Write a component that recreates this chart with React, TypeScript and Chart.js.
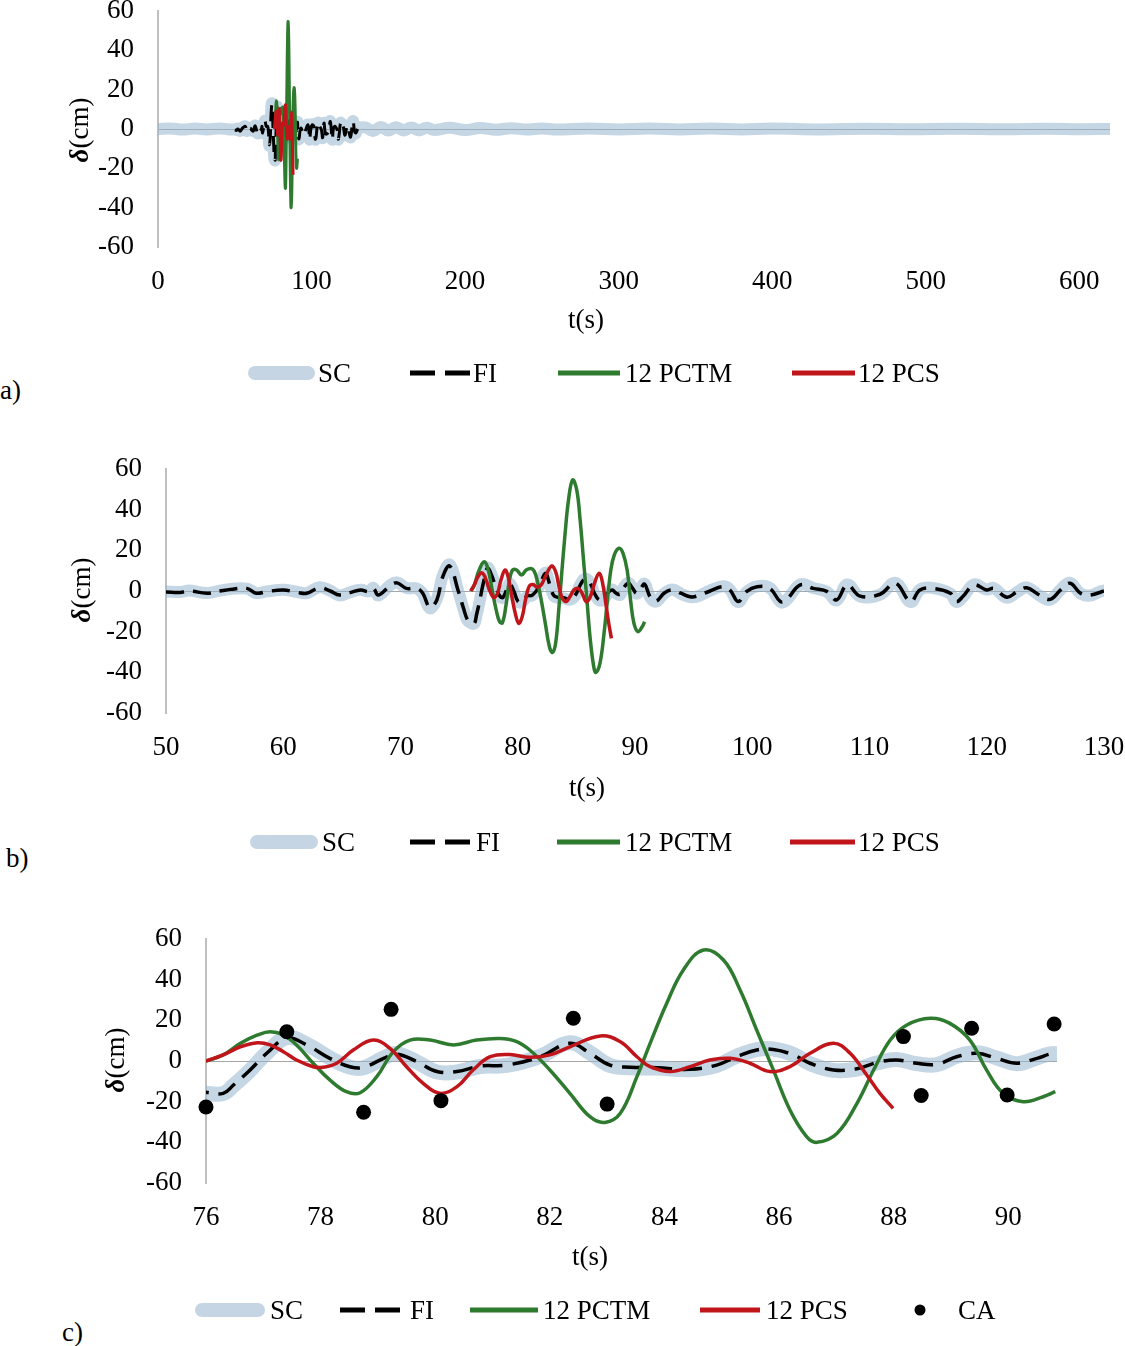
import { useEffect, useRef } from "react"
import { Chart, registerables } from "chart.js"

Chart.register(...registerables)

// ---- data (t in s, displacement in cm) ----

const seriesNames = ["SC", "FI", "12 PCTM", "12 PCS", "CA"]
const xTitleText = "t(s)"
const yTitleSymbol = "δ"
const yTitleUnit = "(cm)"

const fiTime = [
  50, 51.2, 52, 53.5, 54.6, 55.5, 56.9, 57.7, 58.6, 60, 61.2, 62, 63.1, 64, 64.8, 65.7,
  66.6, 67.3, 67.7, 68.1, 69.1, 69.7, 70.5, 71.4, 71.9, 72.5, 73.1, 73.6, 74.2, 74.9, 75.4, 75.7,
  76, 76.3, 76.48, 76.77, 77.06, 77.41, 77.76, 78.16, 78.51, 78.75, 79.1, 79.33, 79.68, 80.03,
  80.38, 80.78, 81.25, 81.83, 82.35, 82.7, 83.05, 83.4, 83.87, 84.45, 84.91, 85.26, 85.61, 85.9,
  86.25, 86.54, 86.95, 87.36, 87.7, 88.05, 88.4, 88.75, 89.1, 89.45, 89.8, 90.15, 90.5, 90.82,
  91.3, 91.8, 92.5, 93.2, 93.9, 94.7, 95.3, 96.4, 97.5, 98.1, 98.8, 99.5, 100.4, 101.5, 102.4,
  102.9, 104.1, 105.2, 106.4, 107.2, 108.1, 109.2, 110.9, 112.2, 113.5, 114.3, 115.4, 116.9,
  117.4, 118, 118.9, 120, 120.6, 121.7, 122.6, 123.4, 124.5, 125.4, 126.3, 127.1, 128, 128.8, 130,
]
const fiDisp = [
  -0.5, -0.7, 0, -1.1, 0, 0.8, 1.3, -1.1, -0.3, 0.5, -0.7, -1.1, 1.6, 0, -2, -0.8,
  0.5, -0.3, 1.3, -2, 2.5, 4, 1.3, 1.3, -1.1, -8, -4.4, 7, 12.3, 0.5, -9, -14,
  -15.4, -15.9, -11.8, -4.4, 3.8, 11.2, 7.9, 1.3, -2.8, -3.1, 1.3, 3.4, -0.3, -5.2,
  -5.2, -2.5, -2, 2.1, 8.7, 3.8, -2, -3.1, -3.3, -4.1, -2, 2.1, 5.4, 5.7,
  3, -1.1, -4.4, -3.8, -0.8, 0.5, -1.1, -1.6, 2.1, 3.8, 1.3, -1.1, 1.3, 3.4,
  -3, -5, -1, 0.5, -1.1, -2.8, -2.5, 0, 2.1, 0.5, -5.2, -0.3, 2.1, 1.3, -5.2,
  -4.4, 3, 1.3, -0.3, -4.4, 3, -2.5, -1.6, 3.8, -5.2, 0.5, 1.3, -1.1,
  -5.2, -2.5, 3, 0.5, 1.3, -3.1, -0.3, 1.6, -2, -4.1, 0.5, 3.8, -1.1, -2, 0,
]

// SC: quiet lead-in, the same sampling instants as FI, then the long tail to 620 s
const scLeadTime = [0, 8, 16, 24, 32, 40, 46]
const scLeadDisp = [0, 0.3, -0.3, 0.2, -0.2, 0.3, -0.2]
const scMidDisp = [
  -0.3, -0.5, 0.2, -1, 0.2, 1, 1.2, -1, -0.2, 0.6, -0.5, -1, 1.8, 0.2, -2.2, -0.6,
  0.6, -0.2, 1.5, -2.2, 2.8, 4.2, 1.5, 1.2, -1.3, -8.5, -4, 7.5, 13, 0.5, -9.5, -14.5,
  -15.8, -16, -12, -4.6, 4, 11.5, 8.2, 1.5, -3, -3.3, 1.5, 3.6, -0.5, -5.4,
  -5.4, -2.7, -2.2, 2.3, 9, 4, -2.2, -3.3, -3.5, -4.3, -2.2, 2.3, 5.6, 5.9,
  3.2, -1.3, -4.6, -4, -1, 0.7, -1.3, -1.8, 2.3, 4, 1.5, -1.3, 1.5, 3.6,
  -3.2, -5.2, -1.2, 0.7, -1.3, -3, -2.7, 0.2, 2.3, 0.7, -5.4, -0.5, 2.3, 1.5, -5.4,
  -4.6, 3.2, 1.5, -0.5, -4.6, 3.2, -2.7, -1.8, 4, -5.4, 0.7, 1.5, -1.3,
  -5.4, -2.7, 3.2, 0.7, 1.5, -3.3, -0.5, 1.8, -2.2, -4.3, 0.7, 4, -1.3, -2.2, 0.2,
]
const scTailTime = [
  135, 140, 145, 150, 155, 160, 165, 170, 175, 180, 190, 200, 210, 220, 230, 240, 250,
  260, 280, 300, 320, 340, 360, 380, 400, 430, 460, 490, 520, 550, 580, 600, 620,
]
const scTailDisp = [
  0.8, -1, 1, -0.8, 0.9, -0.7, 0.8, -0.7, 0.6, -0.5, 0.6, -0.5, 0.5, -0.4, 0.4, -0.3, 0.3,
  -0.3, 0.3, -0.2, 0.2, -0.2, 0.2, -0.2, 0.2, -0.2, 0.1, -0.1, 0.1, -0.1, 0.1, -0.1, 0,
]
const scTime = [...scLeadTime, ...fiTime, ...scTailTime]
const scDisp = [...scLeadDisp, ...scMidDisp, ...scTailDisp]

const pctmTime = [
  76, 76.3, 76.6, 76.9, 77.12, 77.35, 77.58, 77.87, 78.16, 78.45, 78.69, 78.98, 79.27, 79.56,
  79.91, 80.32, 80.72, 81.13, 81.4, 81.65, 82, 82.35, 82.7, 82.96, 83.23, 83.52, 83.75, 84.04,
  84.33, 84.68, 85.03, 85.32, 85.61, 85.9, 86.19, 86.48, 86.66, 87.01, 87.36, 87.65, 87.94,
  88.23, 88.64, 88.98, 89.33, 89.62, 89.91, 90.26, 90.61, 90.82,
]
const pctmDisp = [
  0, 3, 8.7, 12.8, 14.4, 12.8, 7.9, -1.1, -9.3, -15.1, -15.6, -7.7, 4.6, 10.3,
  10.3, 7.9, 10.3, 11.1, 9.8, 5.4, -4.4, -15.9, -27.4, -30.2, -25.7, -7.7, 8.7, 28.4,
  44.8, 54.6, 49.7, 34.9, 15.2, -4.4, -24.1, -37.2, -40, -35.6, -20.8, -4.4, 10.3,
  17.7, 21, 18.5, 10.3, -4.4, -15.9, -20, -17.6, -15.1,
]

const pcsTime = [
  76, 76.3, 76.6, 76.9, 77.12, 77.35, 77.58, 77.87, 78.04, 78.28, 78.57, 78.92, 79.21, 79.5,
  79.79, 80.08, 80.38, 80.66, 80.96, 81.3, 81.65, 82, 82.35, 82.88, 83.23, 83.52, 83.75, 84.1,
  84.45, 84.79, 85.15, 85.49, 85.84, 86.19, 86.54, 86.95, 87.24, 87.53, 87.76, 87.99,
]
const pcsDisp = [
  0, 3, 7, 9, 7.9, 4.6, 0.5, -2.8, -3.1, -1.1, 5.4, 10.3, 6.2, -2.8,
  -11, -15.9, -12.6, -4.4, 2.1, 3.2, 1.8, 3, 7, 12.3, 9.5, 2.1, -2.8, -5.2,
  -2.8, 0.5, 1.3, -1.1, -5.2, -2.8, 3.8, 8.7, 3.8, -6.9, -15.9, -23.3,
]

const caTime = [76, 77.41, 78.75, 79.23, 80.1, 82.41, 83, 88.17, 88.48, 89.36, 89.98, 90.8]
const caDisp = [-22.6, 14.4, -25.2, 25.4, -19.5, 21, -21.2, 12, -17, 16.1, -16.7, 18.2]

// ---- look ----

const FONT_FAMILY = '"Liberation Serif", "Times New Roman", serif'
const FONT_SIZE = 27
const SC_COLOR = "rgba(150, 180, 205, 0.55)"
const SC_SWATCH = "#c5d5e3"
const GREEN = "#2e7b30"
const RED = "#c0161b"
const CANVAS_W = 1160
const TOP_PAD = 46 // must exceed half a y label + the y tick padding
const AXIS_H = 120

type LegendItem = { name: string; kind: string; left: number; width: number; textLeft: number }

type Panel = {
  label: string
  labelLeft: number
  labelY: number
  xMin: number
  xMax: number
  xStep: number
  plotLeft: number
  plotRight: number
  plotTop: number
  plotBottom: number
  xTitleX: number
  xTitleY: number
  yTitleX: number
  yTitleY: number
  scWidth: number
  lineWidth: number
  fiDash: number[]
  withCA: boolean
  legendY: number
  legend: LegendItem[]
}

const panels: Panel[] = [
  {
    label: "a)", labelLeft: 0, labelY: 390,
    xMin: 0, xMax: 620, xStep: 100,
    plotLeft: 158, plotRight: 1110, plotTop: 11, plotBottom: 247,
    xTitleX: 586, xTitleY: 321, yTitleX: 81, yTitleY: 130,
    scWidth: 12, lineWidth: 3, fiDash: [16, 8], withCA: false,
    legendY: 373,
    legend: [
      { name: seriesNames[0], kind: "sc", left: 248, width: 67, textLeft: 318 },
      { name: seriesNames[1], kind: "fi", left: 410, width: 60, textLeft: 473 },
      { name: seriesNames[2], kind: "pctm", left: 558, width: 62, textLeft: 625 },
      { name: seriesNames[3], kind: "pcs", left: 792, width: 63, textLeft: 858 },
    ],
  },
  {
    label: "b)", labelLeft: 6, labelY: 858,
    xMin: 50, xMax: 130, xStep: 10,
    plotLeft: 166, plotRight: 1104, plotTop: 469, plotBottom: 713,
    xTitleX: 587, xTitleY: 789, yTitleX: 83, yTitleY: 590,
    scWidth: 12, lineWidth: 3.5, fiDash: [18, 9], withCA: false,
    legendY: 842,
    legend: [
      { name: seriesNames[0], kind: "sc", left: 250, width: 68, textLeft: 322 },
      { name: seriesNames[1], kind: "fi", left: 410, width: 62, textLeft: 476 },
      { name: seriesNames[2], kind: "pctm", left: 557, width: 63, textLeft: 625 },
      { name: seriesNames[3], kind: "pcs", left: 790, width: 65, textLeft: 858 },
    ],
  },
  {
    label: "c)", labelLeft: 62, labelY: 1332,
    xMin: 76, xMax: 90.85, xStep: 2,
    plotLeft: 206, plotRight: 1057, plotTop: 939, plotBottom: 1183,
    xTitleX: 590, xTitleY: 1258, yTitleX: 117, yTitleY: 1060,
    scWidth: 15, lineWidth: 3.5, fiDash: [20, 10], withCA: true,
    legendY: 1310,
    legend: [
      { name: seriesNames[0], kind: "sc", left: 195, width: 70, textLeft: 270 },
      { name: seriesNames[1], kind: "fi", left: 340, width: 65, textLeft: 410 },
      { name: seriesNames[2], kind: "pctm", left: 470, width: 68, textLeft: 543 },
      { name: seriesNames[3], kind: "pcs", left: 700, width: 60, textLeft: 766 },
      { name: seriesNames[4], kind: "ca", left: 912, width: 16, textLeft: 958 },
    ],
  },
]

// draws t(s) and the rotated δ(cm) with a bold italic delta
const axisTitles = {
  id: "axisTitles",
  afterDraw(chart: any, _args: any, opts: any) {
    const { ctx } = chart
    ctx.save()
    ctx.fillStyle = "#000"
    ctx.textBaseline = "middle"
    ctx.textAlign = "center"
    ctx.font = `${FONT_SIZE}px ${FONT_FAMILY}`
    ctx.fillText(xTitleText, opts.xTitleX, opts.xTitleY)

    ctx.translate(opts.yTitleX, opts.yTitleY)
    ctx.rotate(-Math.PI / 2)
    const boldFont = `italic bold ${FONT_SIZE}px ${FONT_FAMILY}`
    const plainFont = `${FONT_SIZE}px ${FONT_FAMILY}`
    ctx.font = boldFont
    const w1 = ctx.measureText(yTitleSymbol).width
    ctx.font = plainFont
    const w2 = ctx.measureText(yTitleUnit).width
    const start = -(w1 + w2) / 2
    ctx.textAlign = "left"
    ctx.font = boldFont
    ctx.fillText(yTitleSymbol, start, 0)
    ctx.font = plainFont
    ctx.fillText(yTitleUnit, start + w1, 0)
    ctx.restore()
  },
}

const toPoints = (t: number[], v: number[]) => t.map((x, i) => ({ x, y: v[i] }))

function buildConfig(p: Panel): any {
  const canvasTop = p.plotTop - TOP_PAD
  const tickFont = { family: FONT_FAMILY, size: FONT_SIZE }

  const datasets: any[] = [
    {
      label: seriesNames[0],
      data: toPoints(scTime, scDisp),
      borderColor: SC_COLOR,
      borderWidth: p.scWidth,
      borderCapStyle: "round",
      borderJoinStyle: "round",
      order: 5,
    },
    {
      label: seriesNames[1],
      data: toPoints(fiTime, fiDisp),
      borderColor: "#000",
      borderWidth: p.lineWidth,
      borderDash: p.fiDash,
      order: 4,
    },
    {
      label: seriesNames[2],
      data: toPoints(pctmTime, pctmDisp),
      borderColor: GREEN,
      borderWidth: p.lineWidth,
      order: 3,
    },
    {
      label: seriesNames[3],
      data: toPoints(pcsTime, pcsDisp),
      borderColor: RED,
      borderWidth: p.lineWidth,
      order: 2,
    },
  ]
  if (p.withCA) {
    datasets.push({
      label: seriesNames[4],
      data: toPoints(caTime, caDisp),
      showLine: false,
      pointRadius: 7.5,
      pointBackgroundColor: "#000",
      pointBorderWidth: 0,
      clip: false,
      order: 1,
    })
  }

  return {
    type: "line",
    data: { datasets },
    options: {
      animation: false,
      responsive: true,
      maintainAspectRatio: false,
      events: [],
      layout: { padding: { left: 0, right: CANVAS_W - p.plotRight, top: TOP_PAD, bottom: 0 } },
      elements: {
        line: { tension: 0.4, fill: false },
        point: { radius: 0, hoverRadius: 0 },
      },
      scales: {
        x: {
          type: "linear",
          min: p.xMin,
          max: p.xMax,
          ticks: {
            stepSize: p.xStep,
            includeBounds: false,
            padding: 19,
            color: "#000",
            font: tickFont,
            maxRotation: 0,
            autoSkip: false,
          },
          afterBuildTicks: (axis: any) => {
            axis.ticks = axis.ticks.filter((t: any) => {
              const k = t.value / p.xStep
              return Math.abs(k - Math.round(k)) < 1e-6
            })
          },
          afterFit: (axis: any) => {
            axis.height = AXIS_H
          },
          grid: { display: false, drawTicks: false },
          border: { display: false },
        },
        y: {
          min: -60,
          max: 60,
          ticks: { stepSize: 20, padding: 24, color: "#000", font: tickFont },
          afterFit: (axis: any) => {
            axis.width = p.plotLeft
          },
          grid: {
            drawTicks: false,
            lineWidth: 1,
            color: (c: any) => (c.tick && c.tick.value === 0 ? "#a6a6a6" : "rgba(0,0,0,0)"),
          },
          border: { display: true, color: "#bfbfbf", width: 2 },
        },
      },
      plugins: {
        legend: { display: false },
        tooltip: { enabled: false },
        axisTitles: {
          xTitleX: p.xTitleX,
          xTitleY: p.xTitleY - canvasTop,
          yTitleX: p.yTitleX,
          yTitleY: p.yTitleY - canvasTop,
        },
      },
    },
    plugins: [axisTitles],
  }
}

function Swatch({ item, y }: { item: LegendItem; y: number }) {
  const h = 20
  const mid = h / 2
  let mark = null
  if (item.kind === "sc") {
    mark = (
      <line x1={7} y1={mid} x2={item.width - 7} y2={mid} stroke={SC_SWATCH} strokeWidth={14} strokeLinecap="round" />
    )
  } else if (item.kind === "fi") {
    mark = <line x1={0} y1={mid} x2={item.width} y2={mid} stroke="#000" strokeWidth={5} strokeDasharray="25 10" />
  } else if (item.kind === "pctm") {
    mark = <line x1={0} y1={mid} x2={item.width} y2={mid} stroke={GREEN} strokeWidth={5} />
  } else if (item.kind === "pcs") {
    mark = <line x1={0} y1={mid} x2={item.width} y2={mid} stroke={RED} strokeWidth={5} />
  } else {
    mark = <circle cx={item.width / 2} cy={mid} r={5.5} fill="#000" />
  }
  return (
    <svg
      width={item.width}
      height={h}
      style={{ position: "absolute", left: item.left, top: y - mid, overflow: "visible" }}
    >
      {mark}
    </svg>
  )
}

const textStyle = (left: number, y: number): any => ({
  position: "absolute",
  left,
  top: y,
  transform: "translateY(-50%)",
  fontFamily: FONT_FAMILY,
  fontSize: FONT_SIZE,
  lineHeight: 1,
  color: "#000",
  whiteSpace: "nowrap",
})

function ChartPanel({ panel }: { panel: Panel }) {
  const chartRef = useRef<HTMLCanvasElement>(null)
  const chartInstance = useRef<Chart | null>(null)

  useEffect(() => {
    if (!chartRef.current) return
    if (chartInstance.current) {
      chartInstance.current.destroy()
    }
    const ctx = chartRef.current.getContext("2d")
    if (!ctx) return
    chartInstance.current = new Chart(ctx, buildConfig(panel))

    return () => {
      if (chartInstance.current) {
        chartInstance.current.destroy()
        chartInstance.current = null
      }
    }
  }, [panel])

  const canvasTop = panel.plotTop - TOP_PAD
  const canvasHeight = TOP_PAD + (panel.plotBottom - panel.plotTop) + AXIS_H

  return (
    <>
      <div style={{ position: "absolute", left: 0, top: canvasTop, width: CANVAS_W, height: canvasHeight }}>
        <canvas ref={chartRef} />
      </div>
      {panel.legend.map((item) => (
        <div key={item.kind}>
          <Swatch item={item} y={panel.legendY} />
          <span style={textStyle(item.textLeft, panel.legendY)}>{item.name}</span>
        </div>
      ))}
      <span style={textStyle(panel.labelLeft, panel.labelY)}>{panel.label}</span>
    </>
  )
}

export default function App() {
  return (
    <div
      style={{
        position: "absolute",
        left: 0,
        top: 0,
        width: 1125,
        height: 1346,
        overflow: "hidden",
        background: "#fff",
      }}
    >
      {panels.map((p) => (
        <ChartPanel key={p.label} panel={p} />
      ))}
    </div>
  )
}
